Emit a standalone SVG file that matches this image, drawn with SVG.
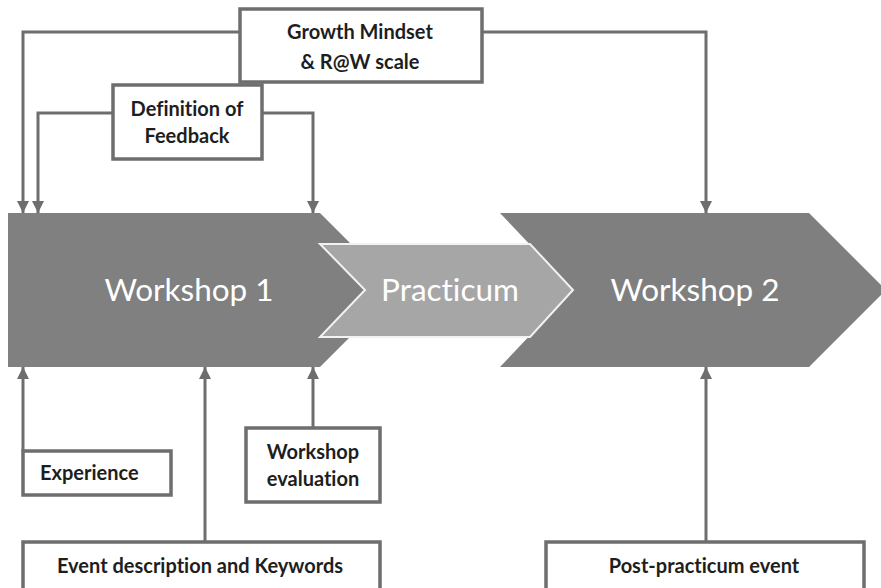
<svg xmlns="http://www.w3.org/2000/svg" width="881" height="588" viewBox="0 0 881 588">
<style>
.box{fill:#fff;stroke:#6e6e6e;stroke-width:3.5}
.lbl{font-family:Lato,"Liberation Sans",sans-serif;font-weight:bold;font-size:20px;fill:#1e1e1e;text-anchor:middle;font-variant-ligatures:none}
.big{font-family:Lato,"Open Sans",sans-serif;font-size:31.5px;fill:#fff;text-anchor:middle;font-variant-ligatures:none}
.con{fill:none;stroke:#6e6e6e;stroke-width:3}
</style>
<defs>
<marker id="ah" viewBox="0 0 10 10" refX="10" refY="5" markerWidth="4" markerHeight="4" orient="auto" markerUnits="strokeWidth">
<path d="M0,0 L10,5 L0,10 z" fill="#6e6e6e"/>
</marker>
</defs>
<rect width="881" height="588" fill="#fff"/>
<g id="workshop1">
<polygon points="8,213 320,213 397,290 320,367 8,367" fill="#808080"/>
<text class="big" x="189" y="301">Workshop 1</text>
</g>
<g id="workshop2">
<polygon points="500,213 809,213 886,290 809,367 500,367 573,290" fill="#7f7f7f"/>
<text class="big" x="695" y="301">Workshop 2</text>
</g>
<g id="practicum">
<polygon points="320,244 530,244 573,290 530,337 320,337 365,290" fill="#a6a6a6" stroke="#f2f2f2" stroke-width="2"/>
<text class="big" x="450" y="301">Practicum</text>
</g>
<g id="connectors">
<path class="con" d="M240,32 H23 V213" marker-end="url(#ah)"/>
<path class="con" d="M482,32 H706 V213" marker-end="url(#ah)"/>
<path class="con" d="M113,113 H38 V213" marker-end="url(#ah)"/>
<path class="con" d="M262,113 H313 V213" marker-end="url(#ah)"/>
<path class="con" d="M23,451 V367" marker-end="url(#ah)"/>
<path class="con" d="M205,542 V367" marker-end="url(#ah)"/>
<path class="con" d="M313,428 V367" marker-end="url(#ah)"/>
<path class="con" d="M706,542 V367" marker-end="url(#ah)"/>
</g>
<g id="growth">
<rect class="box" x="240" y="9" width="242" height="73"/>
<text class="lbl" x="360" y="39">Growth Mindset</text>
<text class="lbl" x="360" y="69">&amp; R@W scale</text>
</g>
<g id="definition">
<rect class="box" x="113" y="85" width="149" height="74"/>
<text class="lbl" x="187" y="116">Definition of</text>
<text class="lbl" x="187" y="143">Feedback</text>
</g>
<g id="experience">
<rect class="box" x="23" y="451" width="148" height="44"/>
<text class="lbl" x="40" y="480" style="text-anchor:start">Experience</text>
</g>
<g id="evaluation">
<rect class="box" x="246" y="428" width="134" height="74"/>
<text class="lbl" x="313" y="459">Workshop</text>
<text class="lbl" x="313" y="486">evaluation</text>
</g>
<g id="event">
<rect class="box" x="23" y="542" width="357" height="50"/>
<text class="lbl" x="200" y="573">Event description and Keywords</text>
</g>
<g id="post">
<rect class="box" x="546" y="542" width="318" height="50"/>
<text class="lbl" x="704" y="573">Post-practicum event</text>
</g>
</svg>
